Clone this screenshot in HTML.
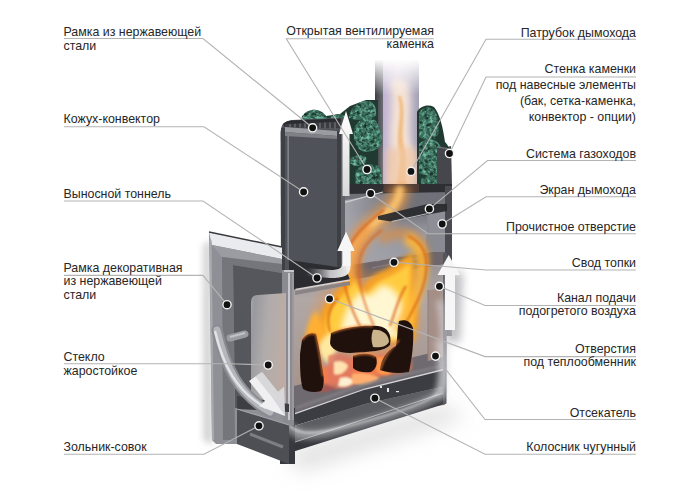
<!DOCTYPE html>
<html><head><meta charset="utf-8">
<style>
html,body{margin:0;padding:0;background:#fff;}
body{width:700px;height:493px;position:relative;overflow:hidden;font-family:"Liberation Sans",sans-serif;}
svg{position:absolute;left:0;top:0;}
.t{position:absolute;font-size:12.4px;color:#262626;white-space:nowrap;line-height:14px;}
.r{text-align:right;}
</style></head><body>
<svg width="700" height="493" viewBox="0 0 700 493">
<defs>
<filter id="b1" filterUnits="userSpaceOnUse" x="0" y="0" width="700" height="493"><feGaussianBlur stdDeviation="1"/></filter>
<filter id="b2" filterUnits="userSpaceOnUse" x="0" y="0" width="700" height="493"><feGaussianBlur stdDeviation="2"/></filter>
<filter id="b3" filterUnits="userSpaceOnUse" x="0" y="0" width="700" height="493"><feGaussianBlur stdDeviation="3"/></filter>
<filter id="b4" filterUnits="userSpaceOnUse" x="0" y="0" width="700" height="493"><feGaussianBlur stdDeviation="4"/></filter>
<filter id="b5" filterUnits="userSpaceOnUse" x="0" y="0" width="700" height="493"><feGaussianBlur stdDeviation="5"/></filter>
<filter id="b10" filterUnits="userSpaceOnUse" x="0" y="0" width="700" height="493"><feGaussianBlur stdDeviation="10"/></filter>
<linearGradient id="pipeL" x1="0" x2="1"><stop offset="0" stop-color="#3c3c44"/><stop offset="1" stop-color="#707078"/></linearGradient>
<linearGradient id="pipeM" x1="0" x2="1"><stop offset="0" stop-color="#c0b4d0"/><stop offset="0.4" stop-color="#dccfdc"/><stop offset="0.7" stop-color="#c4bece"/><stop offset="1" stop-color="#a4a0b4"/></linearGradient>
<linearGradient id="fade" x1="0" y1="0" x2="0" y2="1"><stop offset="0" stop-color="#fff" stop-opacity="1"/><stop offset="1" stop-color="#fff" stop-opacity="0"/></linearGradient>
<linearGradient id="glass" x1="0" y1="0" x2="1" y2="0.3"><stop offset="0" stop-color="#a8a8ac"/><stop offset="0.12" stop-color="#9a999e"/><stop offset="0.5" stop-color="#b0acac"/><stop offset="1" stop-color="#beaca4"/></linearGradient>
<linearGradient id="back" x1="0" y1="0" x2="0" y2="1"><stop offset="0" stop-color="#8e8a8e"/><stop offset="0.3" stop-color="#b0a8a6"/><stop offset="1" stop-color="#a48c82"/></linearGradient>
<linearGradient id="conv" x1="0" x2="1"><stop offset="0" stop-color="#4c4e55"/><stop offset="1" stop-color="#55575e"/></linearGradient>
</defs>

<!-- shadows -->
<path d="M285 452 L446 404 L465 418 L300 472 Z" fill="#c4c4c4" filter="url(#b10)" opacity="0.5"/>
<path d="M203 245 L211 240 L213 445 L203 440 Z" fill="#d4d4d4" filter="url(#b3)"/>

<!-- chimney -->
<rect x="375" y="50" width="8.5" height="136" fill="url(#pipeL)"/>
<rect x="383.5" y="50" width="35.5" height="136" fill="url(#pipeM)"/>
<path d="M390 80 C398 105 388 128 392 150 C395 168 388 178 390 186 L414 186 C412 172 416 160 411 145 C405 124 414 104 406 80 Z" fill="#f4e2d4" filter="url(#b3)"/>
<path d="M398 96 C403 116 395 132 399 150 C402 165 396 176 398 186 L406 186 C405 172 408 160 404 146 C400 130 407 114 401 96 Z" fill="#f0b878" filter="url(#b1)" opacity="0.85"/>
<path d="M386 150 C395 145 410 145 418 152 L418 186 L386 186 Z" fill="#f2c8a4" filter="url(#b3)" opacity="0.7"/>
<rect x="370" y="46" width="55" height="14" fill="#fff"/><rect x="370" y="59" width="55" height="36" fill="url(#fade)"/>

<!-- stone cage right plate -->
<path d="M438 149 L451 146 L452 190 L438 190 Z" fill="#3e4a46"/>
<!-- stones -->
<filter id="stone" x="0" y="0" width="100%" height="100%" color-interpolation-filters="sRGB">
 <feTurbulence type="fractalNoise" baseFrequency="0.3" numOctaves="3" seed="7" result="n"/>
 <feColorMatrix in="n" type="matrix" values="0 0 0 0 0.45  0 0 0 0 0.74  0 0 0 0 0.64  2.8 0 0 0 -1.2" result="g"/>
 <feComposite in="g" in2="SourceGraphic" operator="in"/>
</filter>
<path d="M300 126 L302 116 L312 110 L326 116 L340 114 L350 106 L366 100 L378 100 L378 192 L345 192 L345 126 Z" fill="#203a32"/>
<path d="M417 192 L417 112 C420 106 428 104 434 107 C440 114 443 128 445 142 C449 146 450 150 450 160 L450 190 Z" fill="#203a32"/>
<g fill="#3a6e5c">
<path d="M302 125 C300 118 304 111 312 110 C320 109 326 114 328 120 L328 125 Z"/>
<path d="M325 126 C326 119 332 114 340 114 C346 115 348 120 348 126 Z"/>
<path d="M349 118 C350 108 358 101 368 101 C374 102 377 108 376 116 C370 120 356 121 349 118 Z"/>
<path d="M354 130 C356 121 364 117 372 118 C379 121 382 132 382 142 C380 150 370 153 362 151 C356 148 353 140 354 130 Z"/>
<path d="M350 160 C352 155 360 154 366 157 C368 162 364 166 356 166 C351 165 349 163 350 160 Z"/>
<path d="M356 170 C360 164 372 163 380 167 C383 176 382 186 380 192 L358 192 C355 186 355 176 356 170 Z"/>
<path d="M419 113 C423 106 431 106 435 111 C439 119 440 130 437 138 C431 141 423 140 419 137 Z"/>
<path d="M419 144 C425 138 435 138 440 145 C445 154 447 164 445 173 C437 177 425 176 419 173 Z"/>
<path d="M421 178 C428 175 438 176 445 180 L445 192 L421 192 Z"/>
<path d="M436 148 C441 146 447 149 450 156 L450 178 L440 178 C437 168 436 158 436 148 Z"/>
</g>
<clipPath id="stclip">
<path d="M302 125 C300 118 304 111 312 110 C320 109 326 114 328 120 L328 125 Z"/>
<path d="M325 126 C326 119 332 114 340 114 C346 115 348 120 348 126 Z"/>
<path d="M349 118 C350 108 358 101 368 101 C374 102 377 108 376 116 C370 120 356 121 349 118 Z"/>
<path d="M354 130 C356 121 364 117 372 118 C379 121 382 132 382 142 C380 150 370 153 362 151 C356 148 353 140 354 130 Z"/>
<path d="M350 160 C352 155 360 154 366 157 C368 162 364 166 356 166 C351 165 349 163 350 160 Z"/>
<path d="M356 170 C360 164 372 163 380 167 C383 176 382 186 380 192 L358 192 C355 186 355 176 356 170 Z"/>
<path d="M419 113 C423 106 431 106 435 111 C439 119 440 130 437 138 C431 141 423 140 419 137 Z"/>
<path d="M419 144 C425 138 435 138 440 145 C445 154 447 164 445 173 C437 177 425 176 419 173 Z"/>
<path d="M421 178 C428 175 438 176 445 180 L445 192 L421 192 Z"/>
<path d="M436 148 C441 146 447 149 450 156 L450 178 L440 178 C437 168 436 158 436 148 Z"/>
</clipPath>
<filter id="stone2" x="0" y="0" width="100%" height="100%" color-interpolation-filters="sRGB">
 <feTurbulence type="fractalNoise" baseFrequency="0.25" numOctaves="2" seed="11" result="n"/>
 <feColorMatrix in="n" type="matrix" values="0 0 0 0 0.08  0 0 0 0 0.16  0 0 0 0 0.13  2.5 0 0 0 -1.0" result="g"/>
 <feComposite in="g" in2="SourceGraphic" operator="in"/>
</filter>
<rect x="300" y="94" width="152" height="100" fill="#fff" filter="url(#stone2)" clip-path="url(#stclip)"/>
<rect x="300" y="94" width="152" height="100" fill="#fff" filter="url(#stone)" clip-path="url(#stclip)"/>
<path d="M437 147 L451 149 L451.5 192 L437 192 Z" fill="#46474c"/>
<path d="M437 147 L451 149" stroke="#7a7b80" stroke-width="1"/>
<!-- flue box -->
<linearGradient id="flue" x1="0" y1="0" x2="0" y2="1"><stop offset="0" stop-color="#5a5b62"/><stop offset="0.15" stop-color="#6e6f76"/><stop offset="0.32" stop-color="#9a9aa2"/><stop offset="1" stop-color="#a4a4aa"/></linearGradient>
<rect x="345" y="186" width="107" height="150" fill="url(#flue)"/>
<path d="M345 190 L447 186 L447 206 L345 212 Z" fill="#707178"/>
<linearGradient id="flueL" x1="0" y1="0" x2="1" y2="0"><stop offset="0" stop-color="#a6a6ae" stop-opacity="0.95"/><stop offset="1" stop-color="#a6a6ae" stop-opacity="0"/></linearGradient>
<path d="M345 200 L400 192 L400 262 L345 270 Z" fill="url(#flueL)"/>
<path d="M345 184 L452 184 L452 192 L345 194 Z" fill="#2e2f33"/>
<path d="M383.5 184 L419 184 L419 192 L383.5 192 Z" fill="#4a3a36"/>
<path d="M345 202.4 L383 192" stroke="#d0d0d4" stroke-width="1.2"/>
<rect x="427" y="208" width="18" height="44" fill="#8e8f96"/>
<rect x="427" y="208" width="2" height="43" fill="#8a8b91"/>
<rect x="445" y="186" width="7" height="150" fill="#4a4b50"/>

<!-- firebox back -->
<path d="M294 285 L427 248 L445 248 L445 405 L294 420 Z" fill="url(#back)"/>
<!-- roof band -->
<path d="M345 266 L445 250 L445 264 L350 280 Z" fill="#6e666a"/>
<path d="M376 261 L414 252" stroke="#a89c9c" stroke-width="1.2" opacity="0.8"/>
<path d="M372 268 L420 258" stroke="#a0949a" stroke-width="1" opacity="0.6"/>
<rect x="426" y="235" width="19" height="17" fill="#8a8b92"/>
<!-- floor -->
<path d="M294 386 L443 350 L446 369 L365 389 L294 414 Z" fill="#6e6a70"/>

<!-- fire -->
<radialGradient id="glow" cx="0.5" cy="0.5" r="0.5"><stop offset="0" stop-color="#ffd070" stop-opacity="1"/><stop offset="0.5" stop-color="#f09040" stop-opacity="0.65"/><stop offset="1" stop-color="#f09040" stop-opacity="0"/></radialGradient>
<ellipse cx="366" cy="318" rx="62" ry="52" fill="url(#glow)"/>
<!-- wisps in flue -->
<path d="M368 330 C352 300 345 275 352 255 C358 235 375 222 390 210 C398 203 400 195 400 186" fill="none" stroke="#e89848" stroke-width="20" filter="url(#b4)" opacity="0.7"/>
<path d="M368 330 C352 300 345 275 352 255 C358 235 375 222 390 210 C398 203 400 195 400 186" fill="none" stroke="#ffc870" stroke-width="8" filter="url(#b2)" opacity="0.85"/>
<!-- outer flames -->
<path d="M362 326 C356 300 350 276 356 252 C360 236 366 230 368 225" fill="none" stroke="#e8802a" stroke-width="12" filter="url(#b3)" opacity="0.45"/>
<path d="M380 318 C392 300 410 290 420 270 C428 252 422 238 406 234 C394 232 386 236 380 240" fill="none" stroke="#e8882a" stroke-width="12" filter="url(#b3)" opacity="0.5"/>
<path d="M318 342 C314 322 322 306 332 296 C340 288 346 282 350 272 C356 280 358 288 362 290 C366 280 374 274 384 270 C396 264 404 258 412 252 C418 268 412 282 416 296 C420 312 418 328 414 342 Z" fill="#f4a028" filter="url(#b2)"/>
<!-- yellow -->
<path d="M326 340 C322 322 330 308 338 300 C344 294 350 288 354 280 C360 288 362 294 366 296 C372 286 380 280 390 276 C398 272 404 268 410 262 C412 276 408 288 411 300 C414 314 412 328 408 340 Z" fill="#ffcc40" filter="url(#b2)"/>
<!-- core -->
<path d="M342 336 C340 318 350 302 360 292 C366 298 372 296 380 286 C390 284 398 292 402 304 C406 318 404 328 400 338 Z" fill="#fff6d2" filter="url(#b3)"/>
<!-- dark tongues -->
<path d="M398 332 C408 312 420 292 422 272 C424 254 418 244 406 238" fill="none" stroke="#ffb838" stroke-width="12" filter="url(#b3)" opacity="0.85"/>
<path d="M402 330 C412 312 424 292 426 272 C428 254 422 242 408 236" fill="none" stroke="#d86414" stroke-width="2.2" filter="url(#b1)" opacity="0.8"/>
<path d="M362 330 C346 300 339 275 346 254 C352 236 368 222 384 210" fill="none" stroke="#d85c14" stroke-width="2.2" filter="url(#b1)" opacity="0.75"/>
<path d="M374 326 C362 300 356 276 360 258 C364 244 374 236 382 230" fill="none" stroke="#d85c14" stroke-width="2.2" filter="url(#b1)" opacity="0.6"/>
<path d="M330 332 C326 318 330 306 338 298" fill="none" stroke="#d86010" stroke-width="2.5" filter="url(#b1)" opacity="0.7"/>
<path d="M390 326 C396 310 398 298 406 286" fill="none" stroke="#d86010" stroke-width="2.5" filter="url(#b1)" opacity="0.7"/>
<path d="M312 372 C330 362 370 354 410 352 L411 370 C380 378 345 384 318 386 Z" fill="#f07a50" filter="url(#b2)"/>
<path d="M306 345 C304 330 310 318 316 310 C320 322 326 330 330 346 Z" fill="#ffb030" filter="url(#b2)"/>
<path d="M318 348 C322 336 330 332 336 334 C338 344 336 356 330 364 C324 362 320 356 318 348 Z" fill="#ffe8a0" filter="url(#b2)"/>
<!-- embers -->
<g filter="url(#b1)">
<path d="M328 356 C336 352 346 354 352 358 L354 386 C344 390 334 390 328 386 Z" fill="#e07860" opacity="0.8"/>
<path d="M334 362 C340 360 346 362 348 366 C346 372 340 376 334 374 Z" fill="#ffe2b0"/>
<path d="M340 378 C346 376 352 378 354 382 C350 386 344 388 338 386 Z" fill="#fff0d0"/>
<path d="M376 358 C384 356 392 358 394 364 L390 374 C384 376 378 374 376 370 Z" fill="#ff9850"/>
<path d="M352 374 C362 372 372 374 380 378 C372 384 360 386 352 384 Z" fill="#ffb070"/>
<path d="M316 388 C322 384 330 384 336 388 C330 392 322 393 316 392 Z" fill="#b85048" opacity="0.7"/>
</g>
<!-- logs -->
<g fill="#20110d">
<path d="M302 340 C305 335 311 332 316 334 C318 342 320 352 322 366 C324 377 325 386 321 391 C314 393 308 392 303 389 C300 380 300 366 300 354 Z"/>
<path d="M331 333 C345 327 362 325 378 326 C388 327 392 335 390 345 C385 351 370 352 350 353 C338 353 331 349 330 343 Z"/>
<path d="M399 321 C405 319 411 321 413 328 C414 343 412 358 409 372 C400 374 388 373 380 370 C381 360 386 351 396 346 C398 336 397 328 399 321 Z"/>
<path d="M353 356 C361 353 371 353 376 357 C378 364 376 369 371 372 C364 373 357 372 353 368 Z"/>
</g>
<path d="M373 330 C381 329 389 334 389 342 C386 347 379 348 373 347 C371 341 371 335 373 330 Z" fill="#c9b48e"/>
<g fill="none" stroke="#ff8a3a" stroke-width="1.6" opacity="0.85" filter="url(#b1)">
<path d="M316 334 C318 346 321 358 323 376"/><path d="M331 333 C345 327 362 325 373 326"/><path d="M380 370 C384 356 392 348 399 340"/><path d="M353 356 C361 353 371 353 376 357"/><path d="M302 340 C305 335 311 332 316 334"/>
</g>

<path d="M378 216 L428 204 L447 204 L447 211 L391 221.5 L378 219.5 Z" fill="#28292d" opacity="0.92"/>
<path d="M391.5 221.5 L427.5 213.6" stroke="#c0c0c4" stroke-width="1"/>
<!-- shelf under convector / svod -->
<path d="M282 260 L345 266 L350 280 L295.5 289.5 L282 289.5 Z" fill="#2c2c30"/>
<path d="M295.5 289.5 L350 280" fill="none" stroke="#d8d2d2" stroke-width="1.5"/>
<path d="M295 291 L350 281.5 L350 285 L295 295 Z" fill="#8a8486"/>
<linearGradient id="arrC" x1="1" y1="0" x2="0" y2="0"><stop offset="0" stop-color="#f4f4f4"/><stop offset="0.5" stop-color="#e8e8ea" stop-opacity="0.8"/><stop offset="1" stop-color="#9a9a9e" stop-opacity="0"/></linearGradient>

<!-- convector -->
<path d="M280.5 132 Q281 121 292 120 L341 118 L345 118 L345 275 L281 275 Z" fill="#505259"/>
<path d="M283 124 Q286 120.5 292 120.5 L341 118.5 L341 124 L285 127 Z" fill="#2a2b30"/>
<path d="M285 124 L341 121.5 L341 128 L285 127.5 Z" fill="#3a3b40"/>
<g stroke="#74767c" stroke-width="1.2"><path d="M290 124 V127"/><path d="M295 123.8 V127.2"/><path d="M300 123.6 V127.4"/><path d="M305 123.4 V127.6"/><path d="M310 123.2 V127.8"/><path d="M315 123 V128"/><path d="M320 122.8 V128.2"/><path d="M325 122.6 V128.4"/><path d="M330 122.4 V128.6"/><path d="M335 122.2 V128.8"/></g>
<path d="M285 127 L337 131 L337 136 L285 132 Z" fill="#9a9ca2"/>
<path d="M285 132 L337 136 L337 139 L285 136 Z" fill="#7e8086"/>
<rect x="281" y="128" width="4" height="144" fill="#3f4045"/>
<rect x="287.5" y="136" width="1.3" height="124" fill="#8a8c92"/>
<path d="M337 131 L341 131 L341 268 L337 267 Z" fill="#3e3f44"/>
<path d="M341 124 L345 124 L345 268 L341 268 Z" fill="#606268"/>
<path d="M289 260 L337 267 L345 268 L345 278 L289 278 Z" fill="#2c2d31"/>
<!-- arrows convector -->
<path d="M346 232 L354.5 251 L350.5 251 L350.5 266 C350.5 276 344 278 330 278 L306 276 L306 268 L330 270 C340 270 342.5 268 342.5 262 L342.5 251 L337.5 251 Z" fill="url(#arrC)"/>
<path d="M346 232 L354.5 251 L350.5 251 L350.5 266 L342.5 266 L342.5 251 L337.5 251 Z" fill="#f6f6f6"/>

<linearGradient id="arrU" x1="0" y1="0" x2="0" y2="1"><stop offset="0" stop-color="#ffffff"/><stop offset="1" stop-color="#d8d8da"/></linearGradient>
<path d="M346 111 L353 134 L349.5 134 L349.5 196 L342.5 196 L342.5 134 L339 134 Z" fill="url(#arrU)"/>

<!-- right inner panel -->
<path d="M428 290 L443.5 289 L443.5 357 L428 361 Z" fill="#a48e86"/>
<path d="M428 290 L428 361" stroke="#8a8080" stroke-width="1"/>

<!-- grate front & bottom plates -->
<path d="M296 408 L365 384 L446 365" stroke="#8e8c92" stroke-width="3" opacity="0.5" filter="url(#b1)" fill="none"/>
<path d="M294 414 L365 389 L446 369 L446 386 L365 404 L294 426 Z" fill="#3c3d42"/>
<path d="M295 413.7 L365 389 L446 369" stroke="#d4d4d8" stroke-width="1.3" fill="none"/>
<path d="M294 426 L365 404 L446 386 L446 392.3 L290 444 Z" fill="#5c5d62"/>
<path d="M289 444 L446 392.3 L446 403.5 L289 453 Z" fill="#35363b"/>
<path d="M289 444 L446 392.3" stroke="#a4a5aa" stroke-width="1"/>
<g fill="#e8e8ea"><rect x="380" y="386" width="2" height="2"/><rect x="387" y="388" width="2" height="4"/><rect x="396" y="391" width="3" height="1.2"/></g>
<rect x="280" y="408" width="15" height="56" fill="#38393e"/>
<path d="M443 253 L447 253 L446.5 403.5 L443 404 Z" fill="#55565c"/>
<!-- air wisps -->
<path d="M280 412 C288 436 304 440 340 430 C380 420 420 408 438 396 C446 384 444 362 438 340" fill="none" stroke="#e8e8ec" stroke-width="9" filter="url(#b3)" opacity="0.45"/>
<path d="M282 414 C290 434 306 437 340 428 C380 418 420 406 438 394" fill="none" stroke="#f4f4f6" stroke-width="2.5" filter="url(#b1)" opacity="0.5"/>
<path d="M440 300 C446 330 446 370 440 398" fill="none" stroke="#dcdce0" stroke-width="8" filter="url(#b3)" opacity="0.6"/>
<!-- right arrow -->
<path d="M446 272 L463 272 L460 342 L447 342 Z" fill="#b8b8bc" filter="url(#b4)" opacity="0.9"/>
<path d="M448.7 255 L460 275 L455 275 L455 330 L445 330 L445 275 L437.5 275 Z" fill="#f6f6f6"/>

<!-- door frame -->
<path d="M209 232 L282 247 L282 270 L294 270 L294 425 L237 444 L216 444 L212 440 Z" fill="#8e9096"/>
<path d="M209 232 L282 247 L282 259 L212 245 Z" fill="#eaebee"/>
<path d="M209 232 L282 247" stroke="#3a3a3e" stroke-width="1.5"/>
<path d="M210.5 240 L213 440" stroke="#a8aab0" stroke-width="2"/>
<path d="M212 245 L282 259 L282 264 L222 257 Z" fill="#9a9ca2"/>
<path d="M222 257 L282 264 L282 273 L233 265 L235 440 L223 440 Z" fill="#74767c"/>
<path d="M233 265 L282 273 L283 410 L235 408 Z" fill="#56575d"/>
<path d="M282 270 L294 270 L294 425 L283 422 Z" fill="#8a8a90"/>
<path d="M284 271 H294 M289 273 V420" stroke="#c8c8cc" stroke-width="2" fill="none"/><path d="M293 273 V420" stroke="#a8a8ae" stroke-width="1" fill="none"/>
<!-- glass -->
<path d="M251 302 Q251 295 258 295 L286 293 L286 412 L251 410 Z" fill="url(#glass)"/>
<!-- handle -->
<path d="M237 396 L289 404 L289 412 L237 409 Z" fill="#3e3f44"/>
<path d="M217 330 C225 366 238 394 270 412" fill="none" stroke="#8a8c92" stroke-width="11" stroke-linecap="round"/>
<path d="M217 330 C225 366 238 394 270 412" fill="none" stroke="#b4b6bb" stroke-width="7" stroke-linecap="round"/>
<path d="M215 331 C223 365 236 391 266 408" fill="none" stroke="#e2e3e6" stroke-width="2.5"/>
<path d="M230 338 L245 334" stroke="#9a9ca2" stroke-width="7" stroke-linecap="round"/>
<path d="M230 337 L245 333" stroke="#c0c2c6" stroke-width="2"/>
<!-- down arrow -->
<path d="M262 372 L278 392 L284 387 L285 416 L259 406 L265 401 L249 381 Z" fill="#f0f0f2"/>
<path d="M255.5 376.5 L271.5 396.5 L285 416 L284 387 L278 392 L262 372 Z" fill="#c4c4c8" opacity="0.55"/>

<!-- ash pan -->
<path d="M237 409 L289 425 L289 464 L237 444 Z" fill="#4d4f55"/>
<path d="M237 409 L289 425" stroke="#a0a2a8" stroke-width="1.2"/>
<path d="M250 434 L283 447" stroke="#7c7e84" stroke-width="3"/>

</svg>

<svg width="700" height="493" viewBox="0 0 700 493" style="position:absolute;left:0;top:0">
<g fill="none" stroke="#b4b4b4" stroke-width="1.1">
<path d="M64 38.5 H203 L312.6 127.8"/>
<path d="M64 126.8 H204 L303.6 191.9"/>
<path d="M64 201 H203 L317 278"/>
<path d="M64 275.4 H203 L227 304.7"/>
<path d="M64 363.8 H230 L268.2 365"/>
<path d="M64 454.3 H204 L259 425.8"/>
<path d="M434 38.8 H286.3 L367 169.5"/>
<path d="M636 39.3 H486 L411 171.4"/>
<path d="M636 77 H486 L449.5 153.5"/>
<path d="M636 160.5 H487.5 L429.4 208.9"/>
<path d="M636 196.8 H486 L442.2 224"/>
<path d="M636 233.8 H428 L370.6 193.5"/>
<path d="M636 270 H486 L394 262.3"/>
<path d="M636 305.5 H485 L439.4 286.3"/>
<path d="M636 356.6 H485 L329.6 298.8"/>
<path d="M636 419.5 H485 L435.5 356.1"/>
<path d="M636 454.2 H485 L374.9 398.2"/>
</g>
<g fill="#111" stroke="#f4f4f4" stroke-width="1.4">
<circle cx="312.6" cy="127.8" r="4.1"/>
<circle cx="303.6" cy="191.9" r="4.1"/>
<circle cx="317" cy="278" r="4.1"/>
<circle cx="227" cy="304.7" r="4.1"/>
<circle cx="268.2" cy="365" r="4.1"/>
<circle cx="259" cy="425.8" r="4.1"/>
<circle cx="367" cy="169.5" r="4.1"/>
<circle cx="411" cy="171.4" r="4.1"/>
<circle cx="449.5" cy="153.5" r="4.1"/>
<circle cx="429.4" cy="208.9" r="4.1"/>
<circle cx="442.2" cy="224" r="4.1"/>
<circle cx="370.6" cy="193.5" r="4.1"/>
<circle cx="394" cy="262.3" r="4.1"/>
<circle cx="439.4" cy="286.3" r="4.1"/>
<circle cx="329.6" cy="298.8" r="4.1"/>
<circle cx="435.5" cy="356.1" r="4.1"/>
<circle cx="374.9" cy="398.2" r="4.1"/>
</g>
</svg>

<div class="t" style="left:63.5px;top:24.6px">Рамка из нержавеющей<br>стали</div>
<div class="t" style="left:63.5px;top:112.3px">Кожух-конвектор</div>
<div class="t" style="left:63.5px;top:187.3px">Выносной тоннель</div>
<div class="t" style="left:63.5px;top:261.8px;line-height:13.4px">Рамка декоративная<br>из нержавеющей<br>стали</div>
<div class="t" style="left:63.5px;top:350.8px;line-height:13.75px">Стекло<br>жаростойкое</div>
<div class="t" style="left:63.5px;top:439.6px">Зольник-совок</div>
<div class="t r" style="right:266px;top:25.1px;line-height:13.1px">Открытая вентилируемая<br>каменка</div>
<div class="t r" style="right:64px;top:25.5px">Патрубок дымохода</div>
<div class="t r" style="right:64px;top:62.2px;line-height:15.8px">Стенка каменки<br>под навесные элементы<br>(бак, сетка-каменка,<br>конвектор - опции)</div>
<div class="t r" style="right:64px;top:147.1px">Система газоходов</div>
<div class="t r" style="right:64px;top:183.3px">Экран дымохода</div>
<div class="t r" style="right:64px;top:219.6px">Прочистное отверстие</div>
<div class="t r" style="right:64px;top:255.8px">Свод топки</div>
<div class="t r" style="right:64px;top:292.1px;line-height:13px">Канал подачи<br>подогретого воздуха</div>
<div class="t r" style="right:64px;top:342.8px;line-height:12.8px">Отверстия<br>под теплообменник</div>
<div class="t r" style="right:64px;top:406.3px">Отсекатель</div>
<div class="t r" style="right:64px;top:440.0px">Колосник чугунный</div>
</body></html>
